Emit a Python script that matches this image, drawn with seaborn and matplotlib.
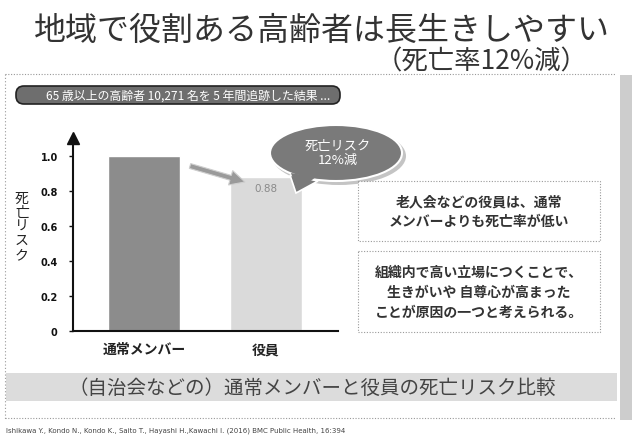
import matplotlib
matplotlib.use("Agg")
import matplotlib.pyplot as plt
from matplotlib.transforms import Affine2D
from matplotlib.patches import FancyBboxPatch, Ellipse, Polygon, Rectangle, FancyArrow
from matplotlib.lines import Line2D
import seaborn as sns
import pandas as pd

# ---- data ----
categories = ["通常メンバー", "役員"]
risk_values = [1.0, 0.88]
bar_colors = ["#8c8c8c", "#dadada"]
y_ticks = [0, 0.2, 0.4, 0.6, 0.8, 1.0]
y_tick_labels = ["0", "0.2", "0.4", "0.6", "0.8", "1.0"]
value_label = "0.88"

title = "地域で役割ある高齢者は長生きしやすい"
subtitle = "（死亡率12%減）"
header = "65 歳以上の高齢者 10,271 名を 5 年間追跡した結果 ..."
ylabel = "死亡リスク"
bubble_text = "死亡リスク\n12%減"
box1_text = "老人会などの役員は、通常\nメンバーよりも死亡率が低い"
box2_text = "組織内で高い立場につくことで、\n生きがいや 自尊心が高まった\nことが原因の一つと考えられる。"
banner_text = "（自治会などの）通常メンバーと役員の死亡リスク比較"
citation = "Ishikawa Y., Kondo N., Kondo K., Saito T., Hayashi H.,Kawachi I. (2016) BMC Public Health, 16:394"

sns.set_style("white")
plt.rcParams["font.family"] = ["Noto Sans CJK JP", "DejaVu Sans"]

W, H = 635, 439
fig = plt.figure(figsize=(W / 100, H / 100), dpi=100)
fig.patch.set_facecolor("white")
T = Affine2D().scale(1 / 100, -1 / 100).translate(0, H / 100) + fig.dpi_scale_trans

# ---- axes ----
ax_left, ax_right, ax_top, ax_bot = 73, 338, 139.5, 332
ax = fig.add_axes([ax_left / W, 1 - ax_bot / H, (ax_right - ax_left) / W, (ax_bot - ax_top) / H])
df = pd.DataFrame({"cat": categories, "risk": risk_values})
sns.barplot(data=df, x="cat", y="risk", hue="cat", palette=bar_colors, width=0.59,
            legend=False, ax=ax, saturation=1)
ax.set_xlim(-0.58, 1.59)
ax.set_ylim(0, 1.1)
ax.set_yticks(y_ticks)
ax.set_yticklabels(y_tick_labels, family="DejaVu Sans", fontweight="bold", fontsize=7, color="#222")
ax.set_xticks(range(len(categories)))
ax.set_xticklabels(categories, fontsize=10, fontweight="bold", color="#222")
ax.set_xlabel("")
ax.set_ylabel("")
for s in ["top", "right"]:
    ax.spines[s].set_visible(False)
for s in ["left", "bottom"]:
    ax.spines[s].set_color("#111")
    ax.spines[s].set_linewidth(1.5)
ax.tick_params(axis="y", direction="out", length=3, width=1, pad=8, left=True, colors="#111")
ax.tick_params(axis="x", length=0, pad=8)
ax.plot([0], [1], marker="^", color="#111", markersize=8, transform=ax.transAxes, clip_on=False)
ax.text(1, risk_values[1] - 0.035, value_label, ha="center", va="top", fontsize=7.5,
        color="#8a8a8a", family="DejaVu Sans")

# y label stacked vertically
fig.text(22, 227, "\n".join(ylabel), transform=T, ha="center", va="center",
         fontsize=10, linespacing=1.0, color="#222")

# ---- title ----
fig.text(322, 31, title, transform=T, ha="center", va="center", fontsize=23, color="#333")
fig.text(588, 62, subtitle, transform=T, ha="right", va="center", fontsize=19, color="#333")

# frame lines
fig.add_artist(Line2D([5, 616], [75, 75], transform=T, color="#999", lw=0.8, ls=(0, (1, 1.5))))
fig.add_artist(Line2D([5, 5], [75, 420], transform=T, color="#999", lw=0.8, ls=(0, (1, 2))))
fig.add_artist(Line2D([5, 616], [419, 419], transform=T, color="#999", lw=0.8, ls=(0, (1, 1.5))))
fig.add_artist(Rectangle((620, 76), 12, 345, transform=T, color="#cdcdcd", lw=0))

# header pill
fig.add_artist(FancyBboxPatch((18, 89), 320, 14, boxstyle="round,pad=2,rounding_size=8",
                              transform=T, facecolor="#6e6e6e", edgecolor="#222", lw=1.2))
fig.text(46, 96.5, header, transform=T, ha="left", va="center", fontsize=8.6, color="white")

# arrow between bars
fig.add_artist(FancyArrow(190, 167, 55, 16, width=5, head_width=15, head_length=15,
                          length_includes_head=True, transform=T, facecolor="#9a9a9a",
                          edgecolor="#cfcfcf", lw=0.8))

# speech bubble
fig.add_artist(Ellipse((339, 157), 134, 58, transform=T, facecolor="#c4c4c4", lw=0))
fig.add_artist(Polygon([(290, 176), (296, 194), (318, 182)], closed=True, transform=T,
                       facecolor="#7a7a7a", edgecolor="white", lw=1.2))
fig.add_artist(Ellipse((336, 154), 132, 56, transform=T, facecolor="#7a7a7a",
                       edgecolor="white", lw=1.5))
fig.add_artist(Polygon([(291, 174), (297, 192), (316, 178)], closed=True, transform=T,
                       facecolor="#7a7a7a", lw=0))
fig.text(338, 153, bubble_text, transform=T, ha="center", va="center", fontsize=9.5,
         color="white", linespacing=1.1)

# text boxes
fig.add_artist(Rectangle((358, 182), 242, 60, transform=T, facecolor="white",
                         edgecolor="#9a9a9a", lw=0.8, ls=(0, (1, 1.5))))
fig.text(479, 212, box1_text, transform=T, ha="center", va="center", fontsize=10,
         color="#333", linespacing=1.55, fontweight="bold")
fig.add_artist(Rectangle((358, 252), 242, 81, transform=T, facecolor="white",
                         edgecolor="#9a9a9a", lw=0.8, ls=(0, (1, 1.5))))
fig.text(479, 293, box2_text, transform=T, ha="center", va="center", fontsize=10,
         color="#333", linespacing=1.55, fontweight="bold")

# bottom banner
fig.add_artist(Rectangle((6, 374), 611, 28, transform=T, color="#dcdcdc", lw=0))
fig.text(312, 388, banner_text, transform=T, ha="center", va="center", fontsize=14, color="#444")

# citation
fig.text(6, 431, citation, transform=T, ha="left", va="center", fontsize=5, color="#444",
         family="DejaVu Sans")

fig.savefig("out.png", dpi=100)
